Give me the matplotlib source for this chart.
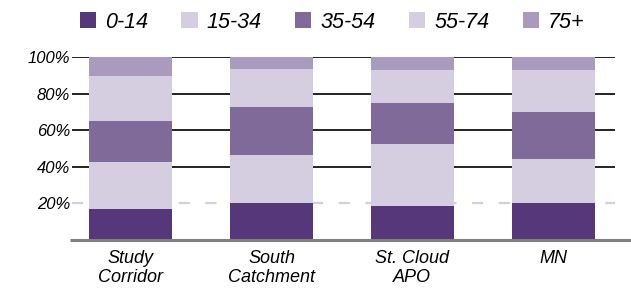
import matplotlib
matplotlib.use("Agg")
import matplotlib.pyplot as plt
import matplotlib.transforms as mtransforms
from matplotlib.patches import Patch
import numpy as np

categories = ["Study\nCorridor", "South\nCatchment", "St. Cloud\nAPO", "MN"]
groups = ["0-14", "15-34", "35-54", "55-74", "75+"]
v_0_14 = [17.0, 20.2, 18.6, 20.2]
v_15_34 = [25.9, 26.5, 33.9, 24.1]
v_35_54 = [22.2, 26.1, 22.5, 25.9]
v_55_74 = [24.8, 20.8, 18.0, 22.8]
v_75p = [10.1, 6.4, 7.0, 7.0]
yticks = [20, 40, 60, 80, 100]
ytick_labels = ["20%", "40%", "60%", "80%", "100%"]

series = [v_0_14, v_15_34, v_35_54, v_55_74, v_75p]
colors = ["#56387a", "#d5cde0", "#806a9a", "#d5cde0", "#aa9bbe"]

plt.rcParams['font.family'] = ['Liberation Sans', 'DejaVu Sans']

fig = plt.figure(figsize=(6.31, 2.90), dpi=100)
ax = fig.add_axes([71.7/631, 1-240/290, (615-71.7)/631, (240-57.3)/290])

x = np.arange(len(categories))
bottom = np.zeros(len(categories))
for vals, c in zip(series, colors):
    ax.bar(x, vals, bottom=bottom, width=0.59, color=c, edgecolor='none', zorder=3)
    bottom += np.array(vals)

# gridlines
for yv in [40, 60, 80, 100]:
    ax.axhline(yv, color='#111111', lw=1.3, zorder=1)
ax.axhline(20, color='#d5cde0', lw=1.6, ls=(0, (5, 7)), zorder=1)

# baseline extending past the right edge
trans = mtransforms.blended_transform_factory(ax.transAxes, ax.transData)
ax.plot([-0.003, (631-71.7)/(615-71.7)], [0, 0], color='#808080', lw=2.2,
        transform=trans, clip_on=False, zorder=4, solid_capstyle='butt')

ax.set_xlim(-0.42, 3.44)
ax.set_ylim(0, 100)
ax.set_yticks(yticks)
ax.set_yticklabels(ytick_labels, fontsize=12, style='italic')
ax.set_xticks(x)
ax.set_xticklabels(categories, fontsize=13, style='italic', linespacing=1.2)
ax.tick_params(axis='both', length=0)
ax.tick_params(axis='y', pad=1)
ax.tick_params(axis='x', pad=7)
for s in ax.spines.values():
    s.set_visible(False)

handles = [Patch(facecolor=c, edgecolor='none') for c in colors]
fig.legend(handles, groups, loc='center', bbox_to_anchor=(332/631, 1-22/290),
           ncol=5, frameon=False, prop={'size': 15.5, 'style': 'italic'},
           handlelength=0.75, handleheight=0.7, handletextpad=0.42,
           columnspacing=1.55, borderpad=0, borderaxespad=0)

fig.savefig("out.png", dpi=100)
